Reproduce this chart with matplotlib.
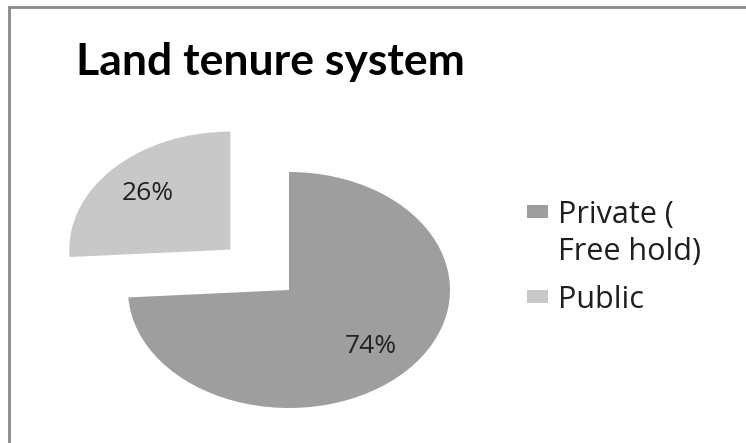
import matplotlib
matplotlib.use("Agg")
import matplotlib.pyplot as plt
from matplotlib.patches import Rectangle

labels = ["Private (\nFree hold)", "Public"]
shares = [74, 26]
colors = ["#9e9e9e", "#c8c8c8"]
explode = [0, 0.5]

W, H = 746, 443
fig = plt.figure(figsize=(W / 100, H / 100), dpi=100)
fig.patch.set_facecolor("white")

def px(x, y):
    # pixel (from top-left) -> figure fraction
    return x / W, 1 - y / H

# chart frame, right and bottom edges run off the picture
fig.add_artist(Rectangle(px(9, 460), 1.2, 453 / H, transform=fig.transFigure,
                         fill=False, edgecolor="#8a8a8a", linewidth=2))

# pie center at (289, 290) px, radii 161 x 118 px (stretched picture)
cx, cy, rx, ry = 289, 290, 161, 118
ax = fig.add_axes([(cx - rx) / W, 1 - (cy + ry) / H, 2 * rx / W, 2 * ry / H])
wedges, texts, autotexts = ax.pie(
    shares, colors=colors, explode=explode, startangle=90, counterclock=False,
    autopct="%d%%", pctdistance=0.7,
    wedgeprops={"clip_on": False, "linewidth": 0},
    textprops={"fontsize": 19, "color": "#222222", "family": "Open Sans"})
for t in autotexts:
    t.set_clip_on(False)
ax.set_aspect("auto")
ax.set_xlim(-1, 1)
ax.set_ylim(-1, 1)
ax.axis("off")

x, y = px(270, 75)
fig.text(x, y, "Land tenure system", ha="center", va="baseline",
         fontsize=32, fontweight="bold", family="Lato", color="black")

# legend, drawn by hand so the swatch sits on the first line
base = [223, 308]
for lab, col, b in zip(labels, colors, base):
    fig.add_artist(Rectangle(px(527, b - 5), 21 / W, 13 / H, transform=fig.transFigure,
                             facecolor=col, edgecolor="none"))
    for k, line in enumerate(lab.split("\n")):
        x, y = px(558, b + 37 * k)
        fig.text(x, y, line, ha="left", va="baseline", fontsize=22,
                 family="Open Sans", color="#1e1e1e")

fig.savefig("out.png", dpi=100)
